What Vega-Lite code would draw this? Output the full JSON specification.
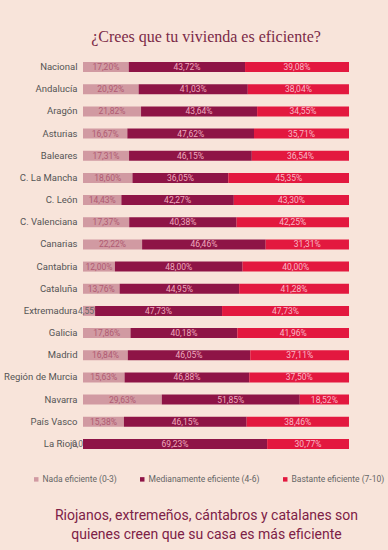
{
  "$schema": "https://vega.github.io/schema/vega-lite/v6.json",
  "width": 266,
  "height": 399,
  "autosize": "none",
  "padding": {"left": 83, "top": 56, "right": 39, "bottom": 95},
  "background": "#f8e4da",
  "title": {
    "text": "¿Crees que tu vivienda es eficiente?",
    "font": "Liberation Serif",
    "fontSize": 16,
    "fontWeight": "normal",
    "color": "#7b2a47",
    "anchor": "middle",
    "frame": "group",
    "dx": -10,
    "offset": 11
  },
  "data": {
    "values": [
      {"region": "Nacional", "nada": 17.20, "medio": 43.72, "bastante": 39.08},
      {"region": "Andalucía", "nada": 20.92, "medio": 41.03, "bastante": 38.04},
      {"region": "Aragón", "nada": 21.82, "medio": 43.64, "bastante": 34.55},
      {"region": "Asturias", "nada": 16.67, "medio": 47.62, "bastante": 35.71},
      {"region": "Baleares", "nada": 17.31, "medio": 46.15, "bastante": 36.54},
      {"region": "C. La Mancha", "nada": 18.60, "medio": 36.05, "bastante": 45.35},
      {"region": "C. León", "nada": 14.43, "medio": 42.27, "bastante": 43.30},
      {"region": "C. Valenciana", "nada": 17.37, "medio": 40.38, "bastante": 42.25},
      {"region": "Canarias", "nada": 22.22, "medio": 46.46, "bastante": 31.31},
      {"region": "Cantabria", "nada": 12.00, "medio": 48.00, "bastante": 40.00},
      {"region": "Cataluña", "nada": 13.76, "medio": 44.95, "bastante": 41.28},
      {"region": "Extremadura", "nada": 4.55, "medio": 47.73, "bastante": 47.73},
      {"region": "Galicia", "nada": 17.86, "medio": 40.18, "bastante": 41.96},
      {"region": "Madrid", "nada": 16.84, "medio": 46.05, "bastante": 37.11},
      {"region": "Región de Murcia", "nada": 15.63, "medio": 46.88, "bastante": 37.50},
      {"region": "Navarra", "nada": 29.63, "medio": 51.85, "bastante": 18.52},
      {"region": "País Vasco", "nada": 15.38, "medio": 46.15, "bastante": 38.46},
      {"region": "La Rioja", "nada": 0.00, "medio": 69.23, "bastante": 30.77}
    ]
  },
  "transform": [
    {"fold": ["nada", "medio", "bastante"], "as": ["key", "v"]},
    {"calculate": "indexof(['nada','medio','bastante'], datum.key)", "as": "ord"},
    {"calculate": "datum.key === 'nada' ? 'Nada eficiente (0-3)' : datum.key === 'medio' ? 'Medianamente eficiente (4-6)' : 'Bastante eficiente (7-10)'", "as": "cat"},
    {"stack": "v", "groupby": ["region"], "sort": [{"field": "ord", "order": "ascending"}], "as": ["x0", "x1"]},
    {"calculate": "(datum.x0 + datum.x1) / 2", "as": "xm"},
    {"calculate": "replace(format(datum.v, '.2f'), '.', ',') + '%'", "as": "lab"}
  ],
  "encoding": {
    "y": {
      "field": "region",
      "type": "nominal",
      "sort": ["Nacional", "Andalucía", "Aragón", "Asturias", "Baleares", "C. La Mancha", "C. León", "C. Valenciana", "Canarias", "Cantabria", "Cataluña", "Extremadura", "Galicia", "Madrid", "Región de Murcia", "Navarra", "País Vasco", "La Rioja"],
      "axis": {
        "title": null,
        "domain": false,
        "ticks": false,
        "labelPadding": 6,
        "labelFont": "Roboto",
        "labelFontSize": 9.5,
        "labelColor": "#555555"
      }
    }
  },
  "layer": [
    {
      "transform": [{"filter": "datum.key === 'nada'"}],
      "mark": {"type": "bar", "height": 10},
      "encoding": {
        "x": {"field": "x0", "type": "quantitative", "scale": {"domain": [0, 100], "nice": false},
          "axis": {"title": ["Riojanos, extremeños, cántabros y catalanes son", "quienes creen que su casa es más eficiente"], "labels": false, "ticks": false, "domain": false, "grid": false,
            "titleFont": "Roboto", "titleFontSize": 14, "titleFontWeight": "normal", "titleColor": "#7d2146", "titlePadding": 53, "titleLineHeight": 19, "titleX": 123}},
        "x2": {"field": "x1"},
        "color": {"field": "cat", "type": "nominal",
          "scale": {"domain": ["Nada eficiente (0-3)", "Medianamente eficiente (4-6)", "Bastante eficiente (7-10)"], "range": ["#d19aa2", "#8e1446", "#e3183f"]},
          "legend": {"title": null, "orient": "none", "legendX": -51, "legendY": 419, "direction": "horizontal",
            "symbolType": "square", "symbolSize": 20, "symbolStrokeWidth": 0, "labelFont": "Roboto", "labelFontSize": 8.5, "labelColor": "#666666", "columnPadding": 21, "labelOffset": 2}}
      }
    },
    {
      "transform": [{"filter": "datum.key === 'nada'"}],
      "mark": {"type": "text", "font": "Roboto", "fontSize": 8.5},
      "encoding": {
        "x": {"field": "xm", "type": "quantitative"},
        "text": {"field": "lab"},
        "color": {"condition": {"test": "datum.v < 10", "value": "#666666"}, "value": "#b05a72"}
      }
    },
    {
      "transform": [{"filter": "datum.key === 'medio'"}],
      "mark": {"type": "bar", "height": 10},
      "encoding": {
        "x": {"field": "x0", "type": "quantitative"},
        "x2": {"field": "x1"},
        "color": {"field": "cat", "type": "nominal"}
      }
    },
    {
      "transform": [{"filter": "datum.key === 'medio'"}],
      "mark": {"type": "text", "font": "Roboto", "fontSize": 8.5, "color": "#eeaabd"},
      "encoding": {
        "x": {"field": "xm", "type": "quantitative"},
        "text": {"field": "lab"}
      }
    },
    {
      "transform": [{"filter": "datum.key === 'bastante'"}],
      "mark": {"type": "bar", "height": 10},
      "encoding": {
        "x": {"field": "x0", "type": "quantitative"},
        "x2": {"field": "x1"},
        "color": {"field": "cat", "type": "nominal"}
      }
    },
    {
      "transform": [{"filter": "datum.key === 'bastante'"}],
      "mark": {"type": "text", "font": "Roboto", "fontSize": 8.5, "color": "#f8b8c6"},
      "encoding": {
        "x": {"field": "xm", "type": "quantitative"},
        "text": {"field": "lab"}
      }
    }
  ],
  "config": {"view": {"stroke": null}}
}
